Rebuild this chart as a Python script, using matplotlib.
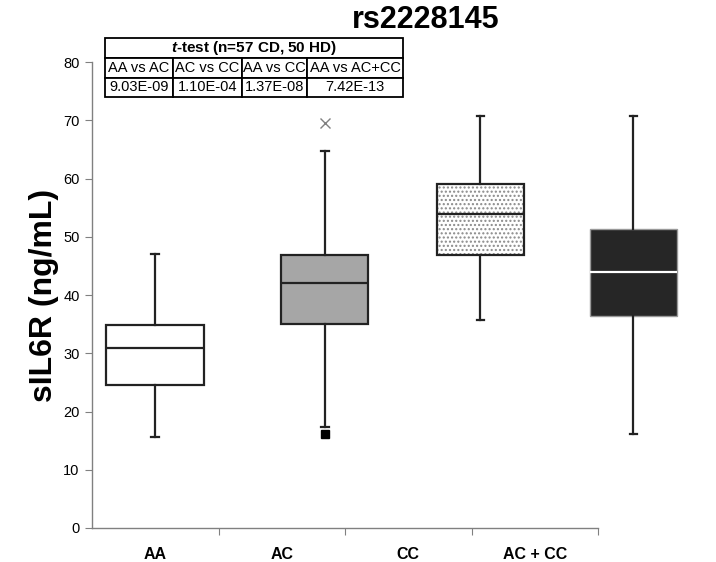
import numpy as np
import matplotlib.pyplot as plt
from matplotlib.patches import Rectangle

plt.rcParams['font.family'] = ['Liberation Sans', 'DejaVu Sans']
plt.rcParams['mathtext.fontset'] = 'custom'
plt.rcParams['mathtext.rm'] = 'Liberation Sans'
plt.rcParams['mathtext.bf'] = 'Liberation Sans:bold'
plt.rcParams['mathtext.bfit'] = 'Liberation Sans:italic:bold'

# box statistics
groups = ['AA', 'AC', 'CC', 'AC + CC']
whislo = [15.7, 17.4, 35.8, 16.1]
q1 = [24.5, 35.1, 46.8, 36.4]
med = [30.9, 42.1, 53.9, 44.0]
q3 = [34.8, 46.8, 59.1, 51.4]
whishi = [47.0, 64.7, 70.7, 70.7]

# AC outliers
ac_out_high = [69.5]
ac_out_low = [16.2]

# t-test table
tt_title = r'$\mathbfit{t}$-test (n=57 CD, 50 HD)'
tt_headers = ['AA vs AC', 'AC vs CC', 'AA vs CC', 'AA vs AC+CC']
tt_pvals = ['9.03E-09', '1.10E-04', '1.37E-08', '7.42E-13']

# layout (boxes are drawn offset from the category labels, like the original)
box_pos = [0.5, 1.84, 3.07, 4.28]
box_w = [0.775, 0.69, 0.69, 0.69]

fig = plt.figure(figsize=(7.16, 5.62), dpi=100)
ax = fig.add_axes([0.1285, 0.0605, 0.7067, 0.829])

stats = []
for i, g in enumerate(groups):
    stats.append(dict(label=g, whislo=whislo[i], q1=q1[i], med=med[i],
                      q3=q3[i], whishi=whishi[i], fliers=[]))

bp = ax.bxp(stats, positions=box_pos, widths=box_w, patch_artist=True,
            showfliers=False, capwidths=0.06,
            boxprops=dict(linewidth=1.6, edgecolor='#222222'),
            whiskerprops=dict(linewidth=1.6, color='#222222'),
            capprops=dict(linewidth=1.6, color='#222222'),
            medianprops=dict(linewidth=1.6, color='#222222'))

fills = ['white', '#a6a6a6', 'none', '#262626']
for patch, fc in zip(bp['boxes'], fills):
    patch.set_facecolor(fc)
bp['boxes'][3].set_edgecolor('#999999')
bp['boxes'][3].set_linewidth(1.0)
bp['medians'][3].set_color('white')

# dotted fill of the CC box
ax.add_patch(Rectangle((box_pos[2] - box_w[2] / 2, q1[2]), box_w[2], q3[2] - q1[2],
                       facecolor='white', edgecolor='#8a8a8a', hatch='....',
                       linewidth=0, zorder=1.9, clip_on=False))

for k in ['boxes', 'whiskers', 'caps', 'medians']:
    for a in bp[k]:
        a.set_clip_on(False)

ax.plot([box_pos[1]] * len(ac_out_high), ac_out_high, 'x', color='#808080',
        markersize=7, mew=1.0, clip_on=False)
ax.plot([box_pos[1]] * len(ac_out_low), ac_out_low, 's', color='black',
        markersize=6, clip_on=False)

ax.set_xlim(0, 4)
ax.set_ylim(0, 80)
ax.set_yticks(np.arange(0, 81, 10))
ax.tick_params(axis='y', direction='out', length=5, color='#808080', labelsize=10.5, pad=4)
ax.set_xticks([1, 2, 3, 4])
ax.set_xticklabels([])
ax.set_xticks([0.5, 1.5, 2.5, 3.5], minor=True)
ax.set_xticklabels(groups, minor=True, fontweight='bold', fontsize=11.5)
ax.tick_params(axis='x', which='major', direction='out', length=5, color='#808080')
ax.tick_params(axis='x', which='minor', length=0, pad=14)
for s in ['top', 'right']:
    ax.spines[s].set_visible(False)
for s in ['left', 'bottom']:
    ax.spines[s].set_color('#808080')
    ax.spines[s].set_linewidth(1.0)

ax.set_ylabel('sIL6R (ng/mL)', fontsize=23, fontweight='bold', labelpad=3)
fig.text(0.594, 0.965, 'rs2228145', ha='center', va='center', fontsize=22, fontweight='bold')

# table
t1 = ax.table(cellText=[[tt_title]], cellLoc='center',
              bbox=[0.0257, 1.0086, 0.589, 0.0429])
t2 = ax.table(cellText=[tt_headers, tt_pvals], cellLoc='center',
              colWidths=[0.134, 0.136, 0.130, 0.189],
              bbox=[0.0257, 0.9249, 0.589, 0.0837])
for t, bold in [(t1, True), (t2, False)]:
    t.auto_set_font_size(False)
    t.set_fontsize(10.5)
    t.set_zorder(5)
    t.set_clip_on(False)
    for cell in t.get_celld().values():
        cell.set_linewidth(1.3)
        cell.set_edgecolor('black')
        cell.PAD = 0.02
        if bold:
            cell.get_text().set_fontweight('bold')
            cell.get_text().set_fontsize(11)

fig.savefig('out.png', dpi=100)
